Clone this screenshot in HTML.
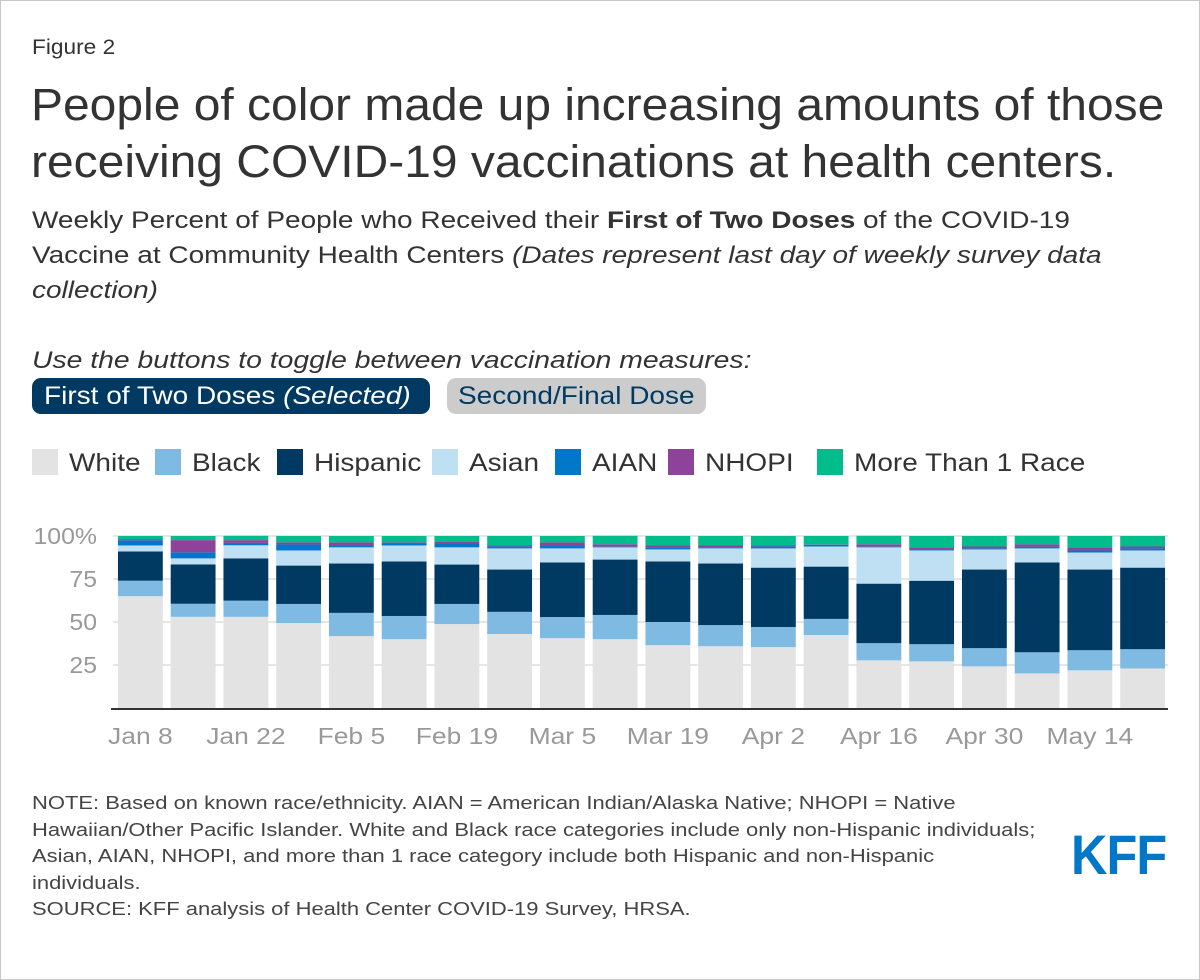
<!DOCTYPE html>
<html><head><meta charset="utf-8">
<style>
body{margin:0;width:1200px;height:980px;background:#fff;font-family:"Liberation Sans",Arial,sans-serif;overflow:hidden}
#frame{position:absolute;left:0;top:0;width:1198px;height:978px;border:1px solid #c8c8c8}
.t{position:absolute;white-space:nowrap;color:#333;transform-origin:left top}
</style></head><body>
<div id="frame"></div>
<div class="t" style="left:32px;top:36px;font-size:21px;transform:scaleX(1.08)">Figure 2</div>
<div class="t" style="left:31px;top:76px;font-size:45px;line-height:57px;color:#333;transform:scaleX(1.066)">People of color made up increasing amounts of those<br>receiving COVID-19 vaccinations at health centers.</div>
<div class="t" style="left:32px;top:203px;font-size:24px;line-height:35px;transform:scaleX(1.166)">Weekly Percent of People who Received their <b>First of Two Doses</b> of the COVID-19<br>Vaccine at Community Health Centers <i>(Dates represent last day of weekly survey data<br>collection)</i></div>
<div class="t" style="left:32px;top:347px;font-size:24px;font-style:italic;transform:scaleX(1.18)">Use the buttons to toggle between vaccination measures:</div>
<div class="t" style="left:32px;top:378px;width:398px;height:36px;background:#003a63;border-radius:9px"></div>
<div class="t" style="left:44px;top:378px;color:#fff;font-size:25px;line-height:36px;transform:scaleX(1.12)">First of Two Doses <i>(Selected)</i></div>
<div class="t" style="left:447px;top:378px;width:259px;height:36px;background:#ccc;border-radius:9px"></div>
<div class="t" style="left:458px;top:378px;color:#003a63;font-size:25px;line-height:36px;transform:scaleX(1.12)">Second/Final Dose</div>

<svg id="chart" width="1200" height="980" style="position:absolute;left:0;top:0"></svg>

<div class="t" style="left:32px;top:790px;font-size:18px;line-height:26.5px;color:#444;transform:scaleX(1.22)">NOTE: Based on known race/ethnicity. AIAN = American Indian/Alaska Native; NHOPI = Native<br>Hawaiian/Other Pacific Islander. White and Black race categories include only non-Hispanic individuals;<br>Asian, AIAN, NHOPI, and more than 1 race category include both Hispanic and non-Hispanic<br>individuals.<br>SOURCE: KFF analysis of Health Center COVID-19 Survey, HRSA.</div>
<div class="t" style="left:1071px;top:822px;font-size:56px;font-weight:bold;color:#0077c8;transform:scaleX(0.9);letter-spacing:-1px">KFF</div>

<script>
const categories=["Jan 8","Jan 15","Jan 22","Jan 29","Feb 5","Feb 12","Feb 19","Feb 26","Mar 5","Mar 12","Mar 19","Mar 26","Apr 2","Apr 9","Apr 16","Apr 23","Apr 30","May 7","May 14","May 21"];
const seriesNames=["White","Black","Hispanic","Asian","AIAN","NHOPI","More Than 1 Race"];
const white=[65,53,53,49.4,41.8,40,48.8,43,40.6,40,36.5,35.9,35.4,42.4,27.7,27.1,24.2,20.1,21.9,23];
const black=[9,7.6,9.4,11.1,13.5,13.5,11.7,12.9,12.3,14.1,13.5,12.3,11.7,9.4,10,10,10.6,12.3,11.7,11.2];
const hispanic=[17,22.9,24.6,22.3,28.7,31.7,22.9,24.6,31.7,32.2,35.2,35.8,34.5,30.4,34.6,36.9,45.7,52.2,46.9,47.4];
const asian=[3.5,3.5,7.6,8.8,9.4,9.3,10,12.3,8.2,7.1,7,8.8,11.2,11.7,21.1,17.6,11.7,8.2,9.9,10];
const aian=[3,3.5,1.4,3.5,1.1,1.4,2.5,1.2,1.7,0.4,1.2,0.6,1.2,1,0.4,0.6,0.6,1,1.2,1.2];
const nhopi=[0.7,7.1,1.6,1.2,1.8,0.4,0.6,0.7,1.8,1.4,1.1,1.1,0.7,0.2,1.4,1.2,1.1,1.4,1.8,1.1];
const moreThan1=[1.8,2.4,2.5,3.7,3.7,3.7,3.5,5.3,3.7,4.9,5.5,5.5,5.3,4.9,4.9,6.6,6.1,4.9,6.6,6.1];
const yTicks=[25,50,75,100];
const yTickLabels=["25","50","75","100%"];
const colors=["#e3e3e3","#7fbae3","#003a63","#bfdff2","#0077c8","#8c4399","#00bd8b"];
const series=[white,black,hispanic,asian,aian,nhopi,moreThan1];

const NS="http://www.w3.org/2000/svg";
const svg=document.getElementById('chart');
function mk(tag,attrs,txt){const e=document.createElementNS(NS,tag);for(const k in attrs)e.setAttribute(k,attrs[k]);if(txt!==undefined)e.textContent=txt;svg.appendChild(e);return e;}
const plotL=113,plotR=1168,y0=708,y100=536;
const pitch=(plotR-plotL)/categories.length, bw=pitch*0.85;
const y=v=>y0-(v/100)*(y0-y100);
const x=i=>plotL+i*pitch+(pitch-bw)/2+1;
const FF='Liberation Sans, Arial, sans-serif';

// legend
const legendX=[32,155,277,432,555,668,817];
seriesNames.forEach((n,i)=>{
  const lx=legendX[i];
  const r=mk('rect',{x:lx,y:449,width:26,height:26,fill:colors[i]});
  
  
  const t=mk('text',{x:0,y:0,'font-size':25,fill:'#333','font-family':FF,transform:`translate(${lx+37},471) scale(1.12,1)`},n);
  
  
});

// gridlines
yTicks.forEach((v,i)=>{
  const g=mk('line',{x1:plotL,x2:plotR,y1:y(v),y2:y(v),stroke:'#e6e6e6','stroke-width':2});
  
  
  const t=mk('text',{x:0,y:0,'text-anchor':'end','font-size':23,fill:'#999','font-family':FF,transform:`translate(97,${y(v)+8}) scale(1.08,1)`},yTickLabels[i]);
  
  
});

// bars
categories.forEach((c,i)=>{
  let cum=0;
  series.forEach((s,k)=>{
    const v=s[i];
    const r=mk('rect',{x:x(i),y:y(cum+v),width:bw,height:Math.max(0,y(cum)-y(cum+v)),fill:colors[k]});
    
    
    cum+=v;
  });
  if(i%2===0){
    const t=mk('text',{x:0,y:0,'text-anchor':'middle','font-size':23,fill:'#999','font-family':FF,transform:`translate(${x(i)+bw/2},744) scale(1.15,1)`},c);
    
    
  }
});
const base=mk('line',{x1:plotL-2,x2:plotR,y1:y0+1,y2:y0+1,stroke:'#333','stroke-width':2});


</script>
</body></html>
